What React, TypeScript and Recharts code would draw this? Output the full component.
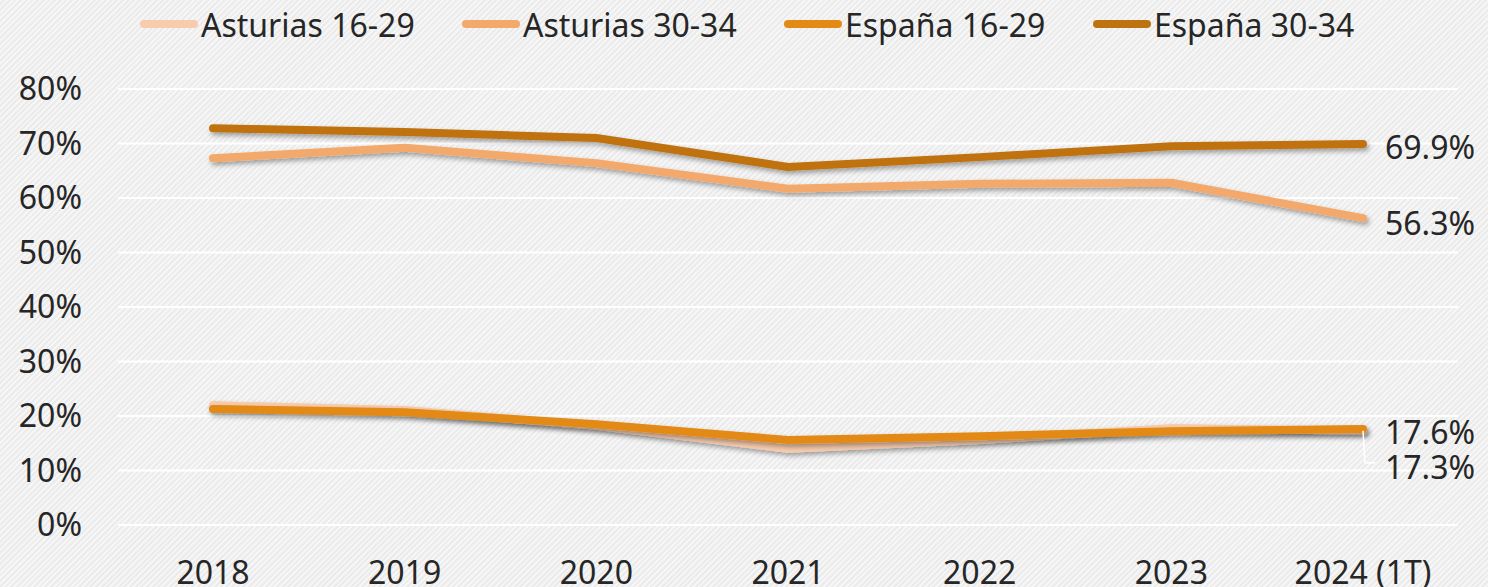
import React from "react";
import { LineChart, Line, XAxis, YAxis, CartesianGrid, LabelList } from "recharts";

const categories = ["2018", "2019", "2020", "2021", "2022", "2023", "2024 (1T)"];
const asturias1629 = [22.0, 21.1, 18.2, 14.0, 15.6, 17.8, 17.3];
const asturias3034 = [67.3, 69.2, 66.4, 61.7, 62.6, 62.8, 56.3];
const espana1629 = [21.3, 20.7, 18.5, 15.6, 16.3, 17.2, 17.6];
const espana3034 = [72.8, 72.1, 71.0, 65.7, 67.5, 69.5, 69.9];
const yTicks = [0, 10, 20, 30, 40, 50, 60, 70, 80];

const seriesNames = ["Asturias 16-29", "Asturias 30-34", "España 16-29", "España 30-34"];
const colors = ["#F8CBAD", "#F4A96C", "#E38A14", "#BF7210"];
const legendX = [140, 462, 784, 1093];

const data = categories.map((c, i) => ({
  cat: c,
  a1: asturias1629[i],
  a2: asturias3034[i],
  e1: espana1629[i],
  e2: espana3034[i],
}));

const FONT = "'Noto Sans', 'Open Sans', sans-serif";
const TEXT = "#262626";
const FS = 32;
const last = categories.length - 1;

const endLabel = (dy: number) => (props: any) => {
  const { x, y, value, index } = props;
  if (index !== last) return null;
  return (
    <text x={x + 22} y={y + dy} fill={TEXT} fontSize={FS} fontFamily={FONT} dominantBaseline="central">
      {`${Number(value).toFixed(1)}%`}
    </text>
  );
};

const leaderLabel = (props: any) => {
  const { x, y, value, index } = props;
  if (index !== last) return null;
  return (
    <g>
      <polyline points={`${x},${y} ${x + 2},${y + 32} ${x + 12},${y + 32}`} fill="none" stroke="#ffffff" strokeWidth={1.5} />
      <text x={x + 22} y={y + 36} fill={TEXT} fontSize={FS} fontFamily={FONT} dominantBaseline="central">
        {`${Number(value).toFixed(1)}%`}
      </text>
    </g>
  );
};

export default function App() {
  return (
    <div
      style={{
        position: "absolute",
        left: 0,
        top: 0,
        width: 1488,
        height: 587,
        background: "repeating-linear-gradient(135deg, #f6f6f6 0px, #f6f6f6 2px, #ebebeb 2px, #ebebeb 4px)",
        fontFamily: FONT,
      }}
    >
      {seriesNames.map((n, i) => (
        <div
          key={n}
          style={{ position: "absolute", top: 2, left: legendX[i], height: 44, display: "flex", alignItems: "center" }}
        >
          <div style={{ width: 58, height: 8, borderRadius: 4, background: colors[i], marginRight: 3 }} />
          <span style={{ fontSize: FS, color: TEXT, whiteSpace: "nowrap" }}>{n}</span>
        </div>
      ))}
      <LineChart width={1488} height={587} data={data} margin={{ top: 89, right: 30, bottom: 0, left: 0 }}>
        <defs>
          <filter id="shadow" x="-5%" y="-50%" width="110%" height="200%">
            <feDropShadow dx="2" dy="3" stdDeviation="2.5" floodColor="#000" floodOpacity="0.35" />
          </filter>
        </defs>
        <CartesianGrid vertical={false} stroke="#ffffff" strokeWidth={2} />
        <XAxis
          dataKey="cat"
          axisLine={false}
          tickLine={false}
          height={62}
          padding={{ left: 95, right: 95 }}
          tick={{ fill: TEXT, fontSize: FS, fontFamily: FONT }}
          tickMargin={30}
          interval={0}
        />
        <YAxis
          domain={[0, 80]}
          ticks={yTicks}
          axisLine={false}
          tickLine={false}
          width={118}
          tickMargin={30}
          tickFormatter={(v) => `${v}%`}
          tick={{ fill: TEXT, fontSize: FS, fontFamily: FONT }}
        />
        <Line dataKey="a1" stroke={colors[0]} strokeWidth={8} dot={false} isAnimationActive={false} filter="url(#shadow)" strokeLinejoin="round" strokeLinecap="round">
          <LabelList dataKey="a1" content={leaderLabel} />
        </Line>
        <Line dataKey="a2" stroke={colors[1]} strokeWidth={8} dot={false} isAnimationActive={false} filter="url(#shadow)" strokeLinejoin="round" strokeLinecap="round">
          <LabelList dataKey="a2" content={endLabel(4)} />
        </Line>
        <Line dataKey="e1" stroke={colors[2]} strokeWidth={8} dot={false} isAnimationActive={false} filter="url(#shadow)" strokeLinejoin="round" strokeLinecap="round">
          <LabelList dataKey="e1" content={endLabel(2)} />
        </Line>
        <Line dataKey="e2" stroke={colors[3]} strokeWidth={8} dot={false} isAnimationActive={false} filter="url(#shadow)" strokeLinejoin="round" strokeLinecap="round">
          <LabelList dataKey="e2" content={endLabel(2)} />
        </Line>
      </LineChart>
    </div>
  );
}
